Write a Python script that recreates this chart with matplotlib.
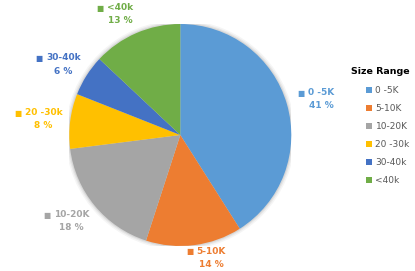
import numpy as np
import matplotlib
matplotlib.use("Agg")
import matplotlib.pyplot as plt
from matplotlib.patches import Patch, Circle

categories = ["0 -5K", "5-10K", "10-20K", "20 -30k", "30-40k", "<40k"]
point_labels = ["0 -5K", "5-10K", "10-20K", "20 -30k", "30-40k", "<40k"]
values = [41, 14, 18, 8, 6, 13]
colors = ["#5B9BD5", "#ED7D31", "#A5A5A5", "#FFC000", "#4472C4", "#70AD47"]

# label placement (style): radial distance and angular nudge per slice
label_dist = [1.31, 1.14, 1.25, 1.24, 1.23, 1.22]
label_nudge = [-1.9, 7.0, -1.3, 0.5, 1.3, 3.1]

W, H = 415, 271
fig = plt.figure(figsize=(W / 100, H / 100), dpi=100)
cx, cy, r = 180.3, 135, 111
ax = fig.add_axes([(cx - r) / W, (H - cy - r) / H, 2 * r / W, 2 * r / H])

# soft shadow
for rr, a in [(1.035, 0.04), (1.022, 0.05), (1.011, 0.07)]:
    ax.add_patch(Circle((0, 0), rr, facecolor="#000000", alpha=a, edgecolor="none", zorder=0))

wedges, _ = ax.pie(values, colors=colors, startangle=90, counterclock=False,
                   wedgeprops=dict(edgecolor="none", linewidth=0))
for w in wedges:
    w.set_zorder(2)
ax.set_xlim(-1, 1)
ax.set_ylim(-1, 1)
ax.set_aspect("equal")
ax.axis("off")

total = sum(values)
for w, lab, v, c, d, nd in zip(wedges, point_labels, values, colors, label_dist, label_nudge):
    ang = np.deg2rad((w.theta1 + w.theta2) / 2 + nd)
    x, y = d * np.cos(ang), d * np.sin(ang)
    t = ax.text(x, y, lab + "\n" + f"{round(100 * v / total)} %",
                ha="center", va="center", fontsize=6.5, color=c, fontweight="bold",
                linespacing=1.6, clip_on=False, multialignment="center")
    ax.annotate("■", xy=(0, 0.76), xycoords=t, xytext=(-2.5, 0),
                textcoords="offset points", ha="right", va="center",
                fontsize=5.5, color=c)

fig.text(351 / W, 1 - 72 / H, "Size Range", fontsize=6.8, fontweight="bold",
         color="#000000", ha="left", va="center")

handles = [Patch(facecolor=c, edgecolor="none") for c in colors]
leg = fig.legend(handles, categories, loc="upper left",
                 bbox_to_anchor=(366 / W, 1 - 86 / H), frameon=False,
                 borderaxespad=0, borderpad=0,
                 fontsize=6.5, handlelength=0.7, handleheight=0.7,
                 handletextpad=0.35, labelspacing=1.0, labelcolor="#595959")

fig.savefig("out.png", dpi=100)
